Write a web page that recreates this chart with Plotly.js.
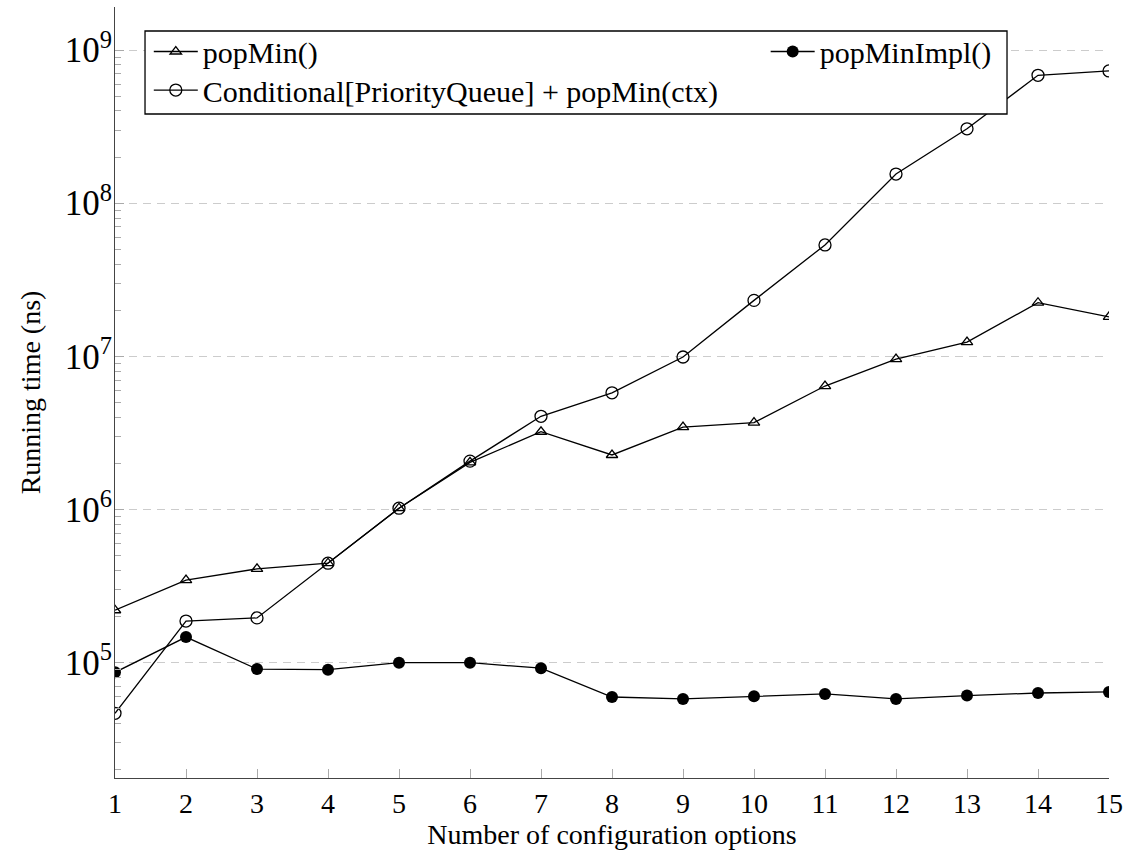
<!DOCTYPE html>
<html>
<head>
<meta charset="utf-8">
<script src="https://cdn.plot.ly/plotly-3.0.1.min.js"></script>
<style>html,body{margin:0;padding:0;background:#fff;}#chart{width:1136px;height:859px;}</style>
</head>
<body>
<div id="chart"></div>
<script>
const xOptions = [1, 2, 3, 4, 5, 6, 7, 8, 9, 10, 11, 12, 13, 14, 15];
const popMinValues = [2.2e5, 3.46e5, 4.1e5, 4.46e5, 1.02e6, 2.03e6, 3.22e6, 2.27e6, 3.45e6, 3.69e6, 6.4e6, 9.6e6, 1.24e7, 2.24e7, 1.81e7];
const conditionalValues = [4.67e4, 1.87e5, 1.96e5, 4.46e5, 1.02e6, 2.07e6, 4.06e6, 5.78e6, 9.9e6, 2.32e7, 5.34e7, 1.55e8, 3.06e8, 6.84e8, 7.3e8];
const popMinImplValues = [8.65e4, 1.47e5, 9.08e4, 9.0e4, 1.0e5, 1.0e5, 9.2e4, 5.97e4, 5.8e4, 6.03e4, 6.25e4, 5.8e4, 6.1e4, 6.34e4, 6.44e4];
const seriesNames = ["popMin()", "Conditional[PriorityQueue] + popMin(ctx)", "popMinImpl()"];
const xTitle = "Number of configuration options";
const yTitle = "Running time (ns)";

const FONT = "Liberation Serif, DejaVu Serif, serif";
const AXFONT = 28;
const LEGFONT = 30;
const lineStyle = {color: '#000', width: 1.3};

const traces = [
  {x: xOptions, y: popMinValues, name: seriesNames[0], mode: 'lines+markers', legend: 'legend',
   line: lineStyle, marker: {symbol: 'triangle-up-open', size: 10, color: '#000', line: {width: 1.3, color: '#000'}}},
  {x: xOptions, y: conditionalValues, name: seriesNames[1], mode: 'lines+markers', legend: 'legend3',
   line: lineStyle, marker: {symbol: 'circle-open', size: 12, color: '#000', line: {width: 1.3, color: '#000'}}},
  {x: xOptions, y: popMinImplValues, name: seriesNames[2], mode: 'lines+markers', legend: 'legend2',
   line: lineStyle, marker: {symbol: 'circle', size: 12, color: '#000', line: {width: 0, color: '#000'}}}
];

const legendBase = {
  xanchor: 'left', yanchor: 'top', orientation: 'v',
  bgcolor: 'rgba(0,0,0,0)', borderwidth: 0, itemwidth: 44,
  font: {family: FONT, size: LEGFONT, color: '#000'}
};

const layout = {
  width: 1136, height: 859,
  margin: {l: 115, r: 27, t: 7, b: 81, pad: 0},
  paper_bgcolor: '#fff', plot_bgcolor: '#fff',
  font: {family: FONT, size: AXFONT, color: '#000'},
  showlegend: true,
  xaxis: {
    range: [1, 15], tickmode: 'linear', tick0: 1, dtick: 1,
    ticks: 'inside', ticklen: 9, tickwidth: 1, tickcolor: '#aaa',
    showline: true, linecolor: '#444', linewidth: 1.3, mirror: false,
    showgrid: false, zeroline: false, ticklabelstandoff: 0,
    tickfont: {family: FONT, size: AXFONT, color: '#000'},
    title: {text: xTitle, font: {family: FONT, size: AXFONT, color: '#000'}, standoff: 0},
    automargin: false
  },
  yaxis: {
    type: 'log', range: [4.247, 9.281], tickmode: 'linear', tick0: 0, dtick: 1,
    exponentformat: 'power', showexponent: 'all',
    ticks: 'inside', ticklen: 9, tickwidth: 1, tickcolor: '#aaa',
    minor: {ticks: 'inside', ticklen: 6, tickwidth: 1, tickcolor: '#aaa', dtick: 'D1', showgrid: false},
    showline: true, linecolor: '#444', linewidth: 1.3, mirror: false,
    showgrid: true, gridcolor: '#cccccc', gridwidth: 1, griddash: '8px,6px',
    zeroline: false, ticklabelstandoff: -4,
    tickfont: {family: FONT, size: AXFONT, color: '#000'},
    title: {text: yTitle, font: {family: FONT, size: AXFONT, color: '#000'}, standoff: 16},
    automargin: false
  },
  legend: Object.assign({}, legendBase, {x: 0.034, y: 0.976}),
  legend3: Object.assign({}, legendBase, {x: 0.034, y: 0.926}),
  legend2: Object.assign({}, legendBase, {x: 0.887, y: 0.976, xanchor: 'right'}),
  shapes: [{
    type: 'rect', xref: 'paper', yref: 'paper', layer: 'above',
    x0: 0.0302, x1: 0.8974, y0: 0.8612, y1: 0.9689,
    fillcolor: '#fff', line: {color: '#000', width: 1.3}
  }]
};

Plotly.newPlot('chart', traces, layout, {displayModeBar: false, staticPlot: true});
</script>
</body>
</html>
